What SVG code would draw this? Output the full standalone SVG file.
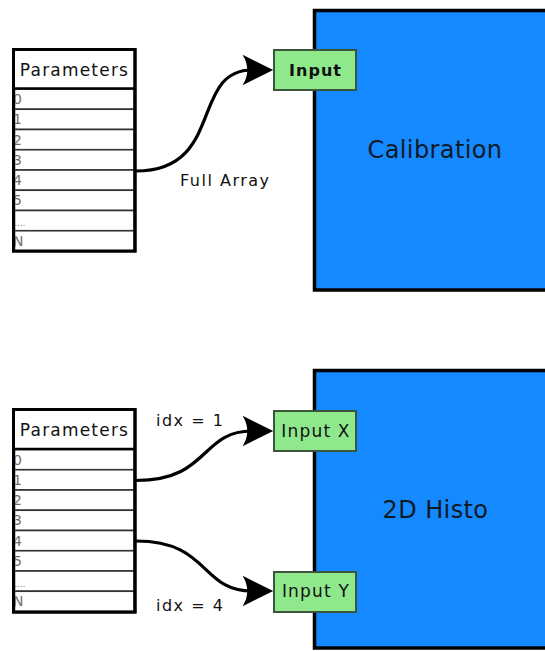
<svg xmlns="http://www.w3.org/2000/svg" width="545" height="651" viewBox="0 0 545 651">
<style>
text{font-family:"DejaVu Sans","Liberation Sans",sans-serif;fill:#111}
.tbl{fill:#fff;stroke:#000;stroke-width:3}
.row{fill:#fff;stroke:#333;stroke-width:1.6}
.hdr{font-size:17px;letter-spacing:1.2px;text-anchor:middle}
.idx{font-size:14px;fill:#6f6f6f}
.dots{font-size:9px;fill:#6f6f6f}
.blk{fill:#1589ff;stroke:#000;stroke-width:3.5}
.blkt{font-size:24px;text-anchor:middle;letter-spacing:0.4px;fill:#0d1a26}
.port{fill:#8fe98c;stroke:#3a553a;stroke-width:2}
.portt{font-size:17px;letter-spacing:1.2px;text-anchor:middle}
.lbl{font-size:16px;letter-spacing:1.5px}
.con{fill:none;stroke:#000;stroke-width:3.2}
</style>
<defs>
<marker id="arr" markerUnits="userSpaceOnUse" markerWidth="40" markerHeight="40" viewBox="-12 -16 34 32" refX="0" refY="0" orient="auto">
<path d="M18,0 L-8,-13 Q0,0 -8,13 Z" fill="#000"/>
</marker>
</defs>

<g id="calibration">
<rect class="blk" x="314.5" y="10.5" width="240" height="279.5"/>
<text class="blkt" x="435" y="158">Calibration</text>
</g>
<g id="calibration-input">
<rect class="port" x="274" y="50" width="82" height="40"/>
<text class="portt" x="315.5" y="76" style="font-weight:bold;font-size:16px;letter-spacing:1px">Input</text>
</g>

<g id="histo2d">
<rect class="blk" x="314.5" y="370.5" width="240" height="277.5"/>
<text class="blkt" x="435.5" y="518">2D Histo</text>
</g>
<g id="histo-input-x">
<rect class="port" x="274" y="411" width="82" height="40"/>
<text class="portt" x="316" y="437">Input X</text>
</g>
<g id="histo-input-y">
<rect class="port" x="274" y="572" width="82" height="40"/>
<text class="portt" x="316" y="597">Input Y</text>
</g>

<g id="parameters-1">
<rect class="tbl" x="13.5" y="49.5" width="121.5" height="201.5"/>
<rect class="row" x="14.5" y="89" width="119.5" height="20.25"/>
<rect class="row" x="14.5" y="109.25" width="119.5" height="20.25"/>
<rect class="row" x="14.5" y="129.5" width="119.5" height="20.25"/>
<rect class="row" x="14.5" y="149.75" width="119.5" height="20.25"/>
<rect class="row" x="14.5" y="170" width="119.5" height="20.25"/>
<rect class="row" x="14.5" y="190.25" width="119.5" height="20.25"/>
<rect class="row" x="14.5" y="210.5" width="119.5" height="20.25"/>
<rect class="row" x="14.5" y="230.75" width="119.5" height="20.25"/>
<text class="hdr" x="74.5" y="76">Parameters</text>
<text class="idx" x="13" y="104">0</text>
<text class="idx" x="13" y="124.2">1</text>
<text class="idx" x="13" y="144.5">2</text>
<text class="idx" x="13" y="164.7">3</text>
<text class="idx" x="13" y="185">4</text>
<text class="idx" x="13" y="205.2">5</text>
<text class="dots" x="14" y="226">....</text>
<text class="idx" x="13" y="245.7">N</text>
<rect x="13.5" y="49.5" width="121.5" height="201.5" fill="none" stroke="#000" stroke-width="3"/>
<line x1="13.5" y1="88.5" x2="135" y2="88.5" stroke="#000" stroke-width="2.5"/>
</g>

<g id="parameters-2">
<rect class="tbl" x="13.5" y="409.5" width="121.5" height="202.5"/>
<rect class="row" x="14.5" y="449.5" width="119.5" height="20.25"/>
<rect class="row" x="14.5" y="469.75" width="119.5" height="20.25"/>
<rect class="row" x="14.5" y="490" width="119.5" height="20.25"/>
<rect class="row" x="14.5" y="510.25" width="119.5" height="20.25"/>
<rect class="row" x="14.5" y="530.5" width="119.5" height="20.25"/>
<rect class="row" x="14.5" y="550.75" width="119.5" height="20.25"/>
<rect class="row" x="14.5" y="571" width="119.5" height="20.25"/>
<rect class="row" x="14.5" y="591.25" width="119.5" height="20.25"/>
<text class="hdr" x="74.5" y="436">Parameters</text>
<text class="idx" x="13" y="464.5">0</text>
<text class="idx" x="13" y="484.7">1</text>
<text class="idx" x="13" y="505">2</text>
<text class="idx" x="13" y="525.2">3</text>
<text class="idx" x="13" y="545.5">4</text>
<text class="idx" x="13" y="565.7">5</text>
<text class="dots" x="14" y="586.5">....</text>
<text class="idx" x="13" y="606.2">N</text>
<rect x="13.5" y="409.5" width="121.5" height="202.5" fill="none" stroke="#000" stroke-width="3"/>
<line x1="13.5" y1="449" x2="135" y2="449" stroke="#000" stroke-width="2.5"/>
</g>

<g id="connectors">
<path class="con" d="M136,171 C225,171 190,70 252,70" marker-end="url(#arr)"/>
<path class="con" d="M136,480.5 C210,480.5 200,431 252,431" marker-end="url(#arr)"/>
<path class="con" d="M136,541 C210,541 200,591 252,591" marker-end="url(#arr)"/>
<text class="lbl" x="180" y="186">Full Array</text>
<text class="lbl" x="156" y="426">idx = 1</text>
<text class="lbl" x="156" y="611">idx = 4</text>
</g>
</svg>
